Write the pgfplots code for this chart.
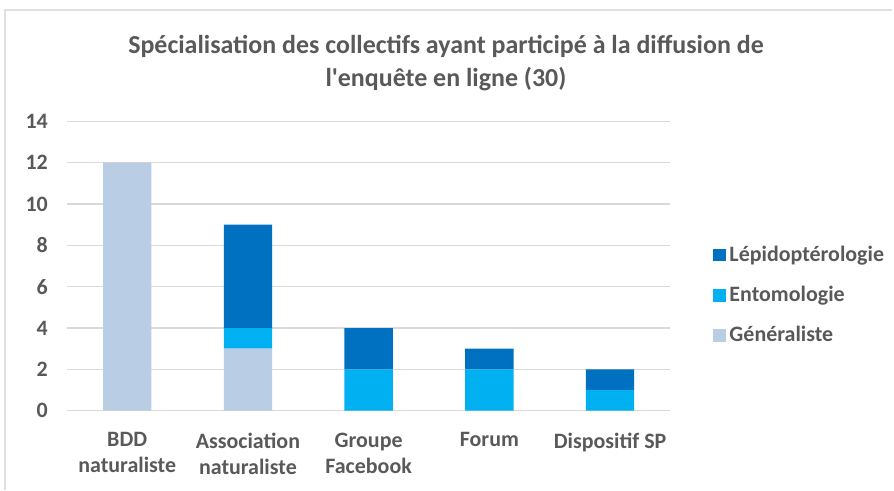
\documentclass[border=0pt]{standalone}
\usepackage{pgfplots}
\pgfplotsset{compat=1.18}
\usepackage{fontspec}
\setmainfont{Carlito}[Ligatures=TeXOff]
\definecolor{gen}{HTML}{B9CDE5}
\definecolor{ento}{HTML}{00B0F0}
\definecolor{lepi}{HTML}{0070C0}
\definecolor{txt}{HTML}{595959}
\definecolor{gridc}{HTML}{D9D9D9}
\begin{document}
\begin{tikzpicture}
% page frame (894 x 491 px at 0.5pt per px)
\path (0,0) rectangle (447pt,245.5pt);
\draw[color=black!12, line width=0.8pt] (2.5pt,0) -- (2.5pt,240.5pt) -- (447pt,240.5pt);

\node[font=\bfseries\fontsize{13}{16.5}\selectfont, align=center, text=txt]
  at (223.5pt,213.75pt)
  {Spécialisation des collectifs ayant participé à la diffusion de\\l'enquête en ligne (30)};

\begin{axis}[
    at={(33.5pt,39.65pt)}, anchor=south west,
    scale only axis,
    width=302.5pt, height=145pt,
    ybar stacked, bar width=0.4,
    xmin=-0.5, xmax=4.5, ymin=0, ymax=14,
    xtick={0,1,2,3,4},
    xticklabels={{BDD\\naturaliste},{Association\\naturaliste},{Groupe\\Facebook},{Forum},{Dispositif SP}},
    ytick={0,2,4,6,8,10,12,14},
    axis line style={draw=none},
    ymajorgrids, xmajorgrids=false,
    grid style={draw=gridc, line width=0.75pt},
    major tick length=0pt,
    xtick pos=bottom, ytick pos=left,
    /pgf/number format/assume math mode=true,
    ticklabel style={font=\bfseries\fontsize{11}{13}\selectfont, text=txt},
    xticklabel style={align=center, yshift=-7.5pt},
    yticklabel style={xshift=-6pt},
    legend style={at={(1.0595,0.399)}, anchor=west, draw=none, fill=none,
      font=\bfseries\fontsize{11}{13}\selectfont, text=txt, row sep=7pt,
      /tikz/every even column/.append style={column sep=2pt}},
    legend cell align=left,
    reverse legend,
    legend image code/.code={\fill[#1] (0pt,-3.2pt) rectangle (6.4pt,3.2pt);},
    clip=false,
]
\addplot[fill=gen, draw=none] coordinates {(0,12) (1,3) (2,0) (3,0) (4,0)};
\addlegendentry{Généraliste}
\addplot[fill=ento, draw=none] coordinates {(0,0) (1,1) (2,2) (3,2) (4,1)};
\addlegendentry{Entomologie}
\addplot[fill=lepi, draw=none] coordinates {(0,0) (1,5) (2,2) (3,1) (4,1)};
\addlegendentry{Lépidoptérologie}
\end{axis}
\end{tikzpicture}
\end{document}
